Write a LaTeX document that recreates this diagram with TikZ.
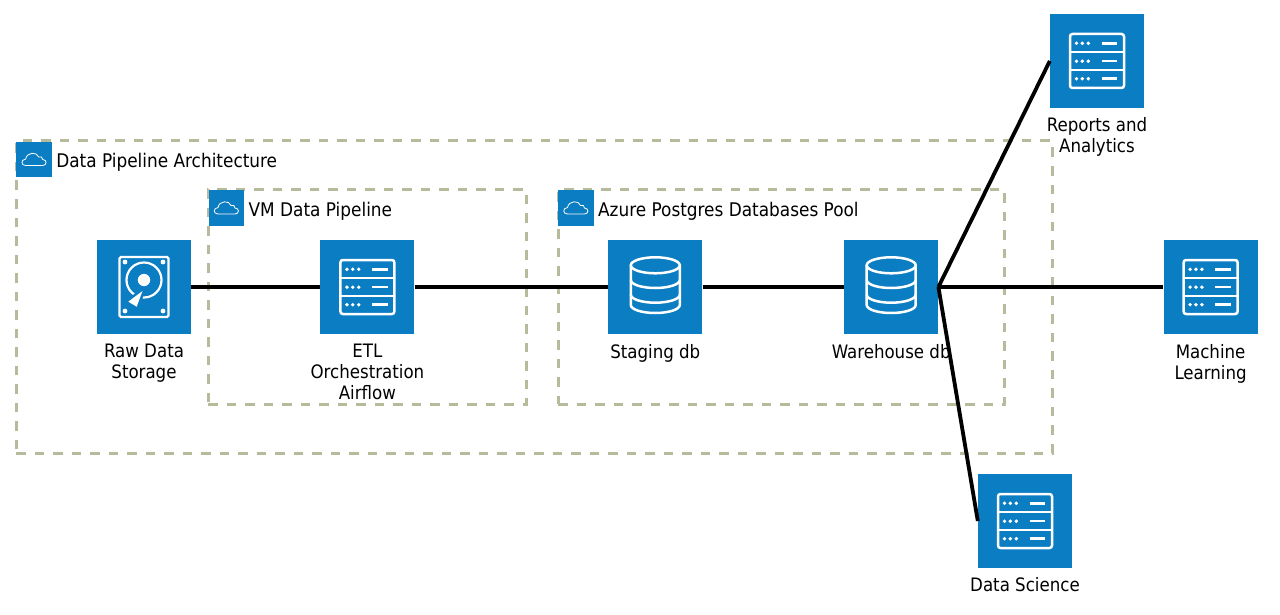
\documentclass[tikz,border=0pt]{standalone}
\usepackage{fontspec}
\setmainfont{DejaVu Sans Condensed}
\usetikzlibrary{positioning}

\definecolor{tileblue}{HTML}{0B7DC3}
\definecolor{dashgreen}{HTML}{B8BA9C}

\tikzset{
	servericon/.pic={
		\draw[white,line width=2.5pt,rounded corners=2.5pt] (-27,-27) rectangle (27,27);
		\draw[white,line width=2.5pt] (-27,-8.8) -- (27,-8.8) (-27,9) -- (27,9);
		\foreach \rowy in {-17.7,0.2,17.7} {
			\foreach \dotx in {-20.5,-14.7,-8.7}
				\fill[white] (\dotx,\rowy) circle (1.9);
			\draw[white,line width=2.5pt] (4.7,\rowy) -- (20.3,\rowy);
		}
	},
	dbicon/.pic={
		\draw[white,line width=2.5pt] (0,-21.7) ellipse (24.5 and 8);
		\draw[white,line width=2.5pt] (-24.5,-21.7) -- (-24.5,18) arc[start angle=180,end angle=0,x radius=24.5,y radius=8] -- (24.5,-21.7);
		\draw[white,line width=2.5pt] (-24.5,-7) arc[start angle=180,end angle=0,x radius=24.5,y radius=8];
		\draw[white,line width=2.5pt] (-24.5,7.7) arc[start angle=180,end angle=0,x radius=24.5,y radius=8];
	},
	diskicon/.pic={
		\draw[white,line width=2.2pt,rounded corners=1.5pt] (-24.5,-30) rectangle (24.5,30);
		\foreach \screwx in {-19,19}
			\foreach \screwy in {-25,24}
				\fill[white] (\screwx,\screwy) circle (2.4);
		\draw[white,line width=2.2pt] (0,-7) circle (17.5);
		\fill[white] (0,-7) circle (6.2);
		\draw[tileblue,line width=5pt,line join=round] (-1.5,4) -- (-15.7,14.7) -- (-7.3,19.7) -- cycle;
		\fill[white] (-1.5,4) -- (-15.7,14.7) -- (-7.3,19.7) -- cycle;
	},
	cloudicon/.pic={
		\draw[white,line width=0.8pt] (-8.5,6) .. controls (-13.5,6) and (-13.5,0) .. (-8.5,-0.5)
			.. controls (-7.5,-7.5) and (3,-8) .. (4.5,-2.5)
			.. controls (7,-3.5) and (8.5,-2) .. (8.5,0)
			.. controls (13,0) and (13,6) .. (8.5,6) -- cycle;
	}
}

\begin{document}
\begin{tikzpicture}[x=1pt,y=-1pt,node distance=129pt,
		tile/.style={fill=tileblue,minimum size=94pt,inner sep=0pt},
		tag/.style={fill=tileblue,minimum size=35.5pt,inner sep=0pt},
		groupbox/.style={draw=dashgreen,line width=3pt,dash pattern=on 9.5pt off 9pt,inner sep=0pt},
		caption/.style={font=\fontsize{18.5}{21}\selectfont,align=center,inner sep=0pt},
		grouptitle/.style={font=\fontsize{18.8}{21}\selectfont,inner sep=0pt,yshift=-3pt},
		pipe/.style={line width=3.8pt}]
	\useasboundingbox (0,0) rectangle (1280,615);
	% group frames
	\node[groupbox,minimum width=1036pt,minimum height=312pt] (outerbox) at (534,297) {};
	\node[groupbox,minimum width=318pt,minimum height=215pt] (vmbox) at (367,296.5) {};
	\node[groupbox,minimum width=446pt,minimum height=215pt] (azurebox) at (781,296.5) {};
	\node[tag] (outertag) at (34.2,159.5) {};
	\node[tag] (vmtag) at (226.5,208) {};
	\node[tag] (azuretag) at (576,208) {};
	\node[grouptitle,right=4pt of outertag] (outertitle) {Data Pipeline Architecture};
	\node[grouptitle,right=4pt of vmtag] (vmtitle) {VM Data Pipeline};
	\node[grouptitle,right=4pt of azuretag] (azuretitle) {Azure Postgres Databases Pool};
	\pic at (outertag) {cloudicon};
	\pic at (vmtag) {cloudicon};
	\pic at (azuretag) {cloudicon};
	% main row
	\node[tile] (raw) at (144,287) {};
	\node[tile] (etl) [right=of raw] {};
	\node[tile] (staging) [right=193.5pt of etl] {};
	\node[tile] (warehouse) [right=141.5pt of staging] {};
	\node[tile] (learning) [right=225pt of warehouse] {};
	\node[tile] (reports) at (1097,61) {};
	\node[tile] (science) at (1025,521) {};
	\pic at (raw) {diskicon};
	\pic at (etl) {servericon};
	\pic at (staging) {dbicon};
	\pic at (warehouse) {dbicon};
	\pic at (learning) {servericon};
	\pic at (reports) {servericon};
	\pic at (science) {servericon};
	\node[caption,below=10pt of raw] (rawlabel) {Raw Data\\Storage};
	\node[caption,below=10pt of etl] (etllabel) {ETL\\Orchestration\\Airflow};
	\node[caption,below=10pt of staging] (staginglabel) {Staging db};
	\node[caption,below=10pt of warehouse] (warehouselabel) {Warehouse db};
	\node[caption,below=10pt of learning] (learninglabel) {Machine\\Learning};
	\node[caption,below=9pt of reports] (reportslabel) {Reports and\\Analytics};
	\node[caption,below=9pt of science] (sciencelabel) {Data Science};
	% connectors
	\path[draw,pipe] (raw) edge (etl)
		(etl) edge (staging)
		(staging) edge (warehouse)
		(warehouse) edge (learning)
		(warehouse.east) edge (reports.west)
		(warehouse.east) edge (science.west);
\end{tikzpicture}
\end{document}
